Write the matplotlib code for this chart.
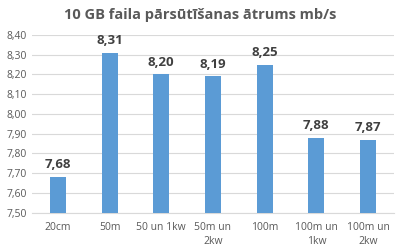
import matplotlib.pyplot as plt
import numpy as np

categories = ["20cm", "50m", "50 un 1kw", "50m un\n2kw", "100m", "100m un\n1kw", "100m un\n2kw"]
speeds = [7.68, 8.31, 8.20, 8.19, 8.25, 7.88, 7.87]
yticks = [7.50, 7.60, 7.70, 7.80, 7.90, 8.00, 8.10, 8.20, 8.30, 8.40]

plt.rcParams["font.family"] = ["Open Sans", "DejaVu Sans"]

fig = plt.figure(figsize=(4, 2.5), dpi=100)
ax = fig.add_axes([0.08, 0.15, 0.905, 0.71])

x = np.arange(len(categories))
ax.bar(x, speeds, width=0.31, color="#5b9bd5", zorder=3)
for xi, v in zip(x, speeds):
    ax.text(xi, v + 0.03, f"{v:.2f}".replace(".", ","), ha="center", va="bottom",
            fontsize=9.5, fontweight="bold", color="#404040")

ax.set_ylim(7.50, 8.40)
ax.set_xlim(-0.5, len(categories) - 0.5)
ax.set_yticks(yticks)
ax.set_yticklabels([f"{t:.2f}".replace(".", ",") for t in yticks])
ax.set_xticks(x)
ax.set_xticklabels(categories, linespacing=1.35)
ax.tick_params(axis="both", length=0, labelsize=7.5, labelcolor="#595959")
ax.tick_params(axis="x", pad=7)
ax.grid(axis="y", color="#d9d9d9", linewidth=0.8, zorder=0)
for s in ["top", "right", "left"]:
    ax.spines[s].set_visible(False)
ax.spines["bottom"].set_color("#d9d9d9")

fig.text(0.5, 0.94, "10 GB faila pārsūtīšanas ātrums mb/s", ha="center", va="center",
         fontsize=10.5, fontweight="bold", color="#595959")

plt.savefig("out.png", dpi=100)
plt.close()
